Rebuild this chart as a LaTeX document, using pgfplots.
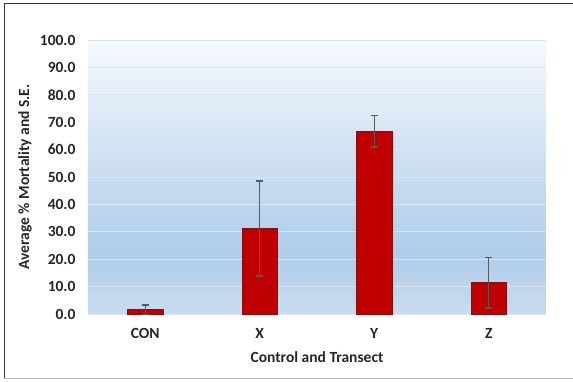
\documentclass[border=0pt]{standalone}
\usepackage{pgfplots}
\pgfplotsset{compat=1.18}
\usepackage{fontspec}
\setmainfont{Carlito}
\usetikzlibrary{calc}

\definecolor{bartop}{HTML}{C00000}
\definecolor{baredge}{HTML}{7F1010}
\definecolor{errgray}{HTML}{595959}
\definecolor{bgtop}{HTML}{F5F9FD}
\definecolor{bgmid}{HTML}{AFCCE8}
\definecolor{bgbot}{HTML}{C8DCEF}
\definecolor{gridc}{HTML}{DCE5EE}

% plot area runs from 25bp (bottom) to 75bp (top) of the shading
\pgfdeclareverticalshading{plotbg}{100bp}{%
  color(0bp)=(bgbot); color(25bp)=(bgbot); color(36bp)=(bgmid);
  color(75bp)=(bgtop); color(100bp)=(bgtop)}

\pgfplotstableread{
x  y     e
0  1.6   1.7
1  31.2  17.3
2  66.7  5.7
3  11.4  9.2
}\mortality

\begin{document}
\begin{tikzpicture}
\begin{axis}[
  scale only axis,
  width=458pt, height=274pt,
  xmin=-0.5, xmax=3.5,
  ymin=0, ymax=100,
  ytick={0,10,...,100},
  xtick=data,
  xticklabels={CON, X, Y, Z},
  axis line style={draw=none},
  tick style={draw=none},
  ymajorgrids,
  major grid style={gridc, line width=0.9pt},
  axis background/.style={shading=plotbg},
  /pgf/number format/assume math mode=true,
  /pgf/number format/.cd, fixed, fixed zerofill, precision=1, /pgfplots/.cd,
  ticklabel style={font=\fontsize{15.5}{18}\selectfont\bfseries, text=black!85},
  yticklabel style={xshift=-9pt},
  xticklabel style={yshift=-11pt},
  xlabel={Control and Transect},
  ylabel={Average \% Mortality and S.E.},
  label style={font=\fontsize{15.5}{18}\selectfont\bfseries, text=black!85},
  xlabel style={at={(axis description cs:0.5,0)}, anchor=center, yshift=-43pt},
  ylabel style={at={(axis description cs:0,0.5)}, anchor=center, yshift=63pt},
]
\coordinate (bl) at (rel axis cs:0,0);
\addplot[ybar, bar width=0.31, fill=bartop, draw=baredge, line width=0.6pt,
  error bars/.cd, y dir=both, y explicit,
  error bar style={errgray, line width=1.3pt},
  error mark options={rotate=90, mark size=3.5pt, line width=1.3pt, errgray}]
  table[x=x, y=y, y error=e] {\mortality};
\end{axis}
% outer frame of the chart
\path[use as bounding box] ($(bl)+(-88pt,-67pt)$) rectangle ++(573pt,381pt);
\draw[black!80, line width=0.8pt] ($(bl)+(485pt,311pt)$) -- ($(bl)+(-84pt,311pt)$) -- ($(bl)+(-84pt,-64pt)$);
\draw[gray!60, line width=0.8pt] ($(bl)+(-84pt,-64pt)$) -- ($(bl)+(485pt,-64pt)$);
\end{tikzpicture}
\end{document}
